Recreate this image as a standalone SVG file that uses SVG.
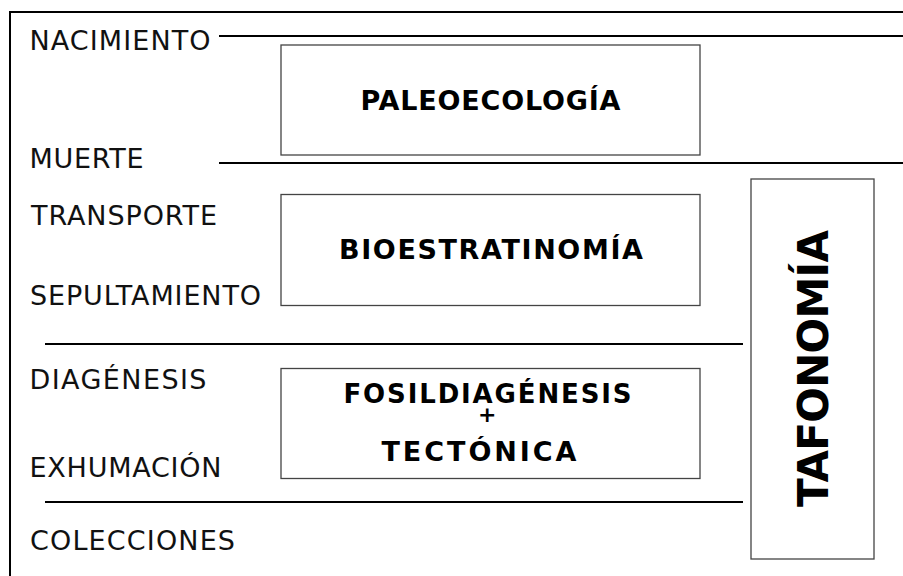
<svg xmlns="http://www.w3.org/2000/svg" width="903" height="576" viewBox="0 0 903 576">
<style>
.lbl{font-family:"DejaVu Sans","Verdana",sans-serif;font-size:27px;fill:#111;}
.ttl{font-family:"DejaVu Sans","Verdana",sans-serif;font-size:26px;font-weight:bold;fill:#000;text-anchor:middle;}
.box{fill:#fff;stroke:#444;stroke-width:1.3;}
.sep{stroke:#000;stroke-width:2;fill:none;}
</style>
<rect x="0" y="0" width="903" height="576" fill="#fff"/>
<path class="sep" d="M10,577 V12 H904"/>
<g id="separators">
<line class="sep" x1="219" y1="36" x2="903" y2="36"/>
<line class="sep" x1="219" y1="163" x2="903" y2="163"/>
<line class="sep" x1="45" y1="344" x2="743" y2="344"/>
<line class="sep" x1="45" y1="502" x2="743" y2="502"/>
</g>
<g id="labels">
<text class="lbl" x="29.5" y="50" textLength="181">NACIMIENTO</text>
<text class="lbl" x="29.5" y="168" textLength="114">MUERTE</text>
<text class="lbl" x="31" y="225" textLength="186">TRANSPORTE</text>
<text class="lbl" x="30" y="305" textLength="231">SEPULTAMIENTO</text>
<text class="lbl" x="29.5" y="389" textLength="177">DIAGÉNESIS</text>
<text class="lbl" x="29.5" y="477" textLength="192">EXHUMACIÓN</text>
<text class="lbl" x="30" y="550" textLength="205">COLECCIONES</text>
</g>
<g id="paleoecologia">
<rect class="box" x="281" y="45" width="419" height="110"/>
<text class="ttl" x="490.5" y="110" style="font-size:27px" textLength="260">PALEOECOLOGÍA</text>
</g>
<g id="bioestratinomia">
<rect class="box" x="281" y="194.5" width="419" height="111"/>
<text class="ttl" x="491" y="259" style="font-size:27px" textLength="304">BIOESTRATINOMÍA</text>
</g>
<g id="fosildiagenesis">
<rect class="box" x="281" y="368.5" width="419" height="110"/>
<text class="ttl" x="487.5" y="403" textLength="288">FOSILDIAGÉNESIS</text>
<text class="ttl" x="487.3" y="422" style="font-size:22px">+</text>
<text class="ttl" x="479" y="461" style="font-size:27px" textLength="195">TECTÓNICA</text>
</g>
<g id="tafonomia">
<rect class="box" x="751" y="179" width="123" height="380"/>
<text class="ttl" style="font-size:42px" transform="translate(828,368.5) rotate(-90)" x="0" y="0" textLength="277">TAFONOMÍA</text>
</g>
</svg>
